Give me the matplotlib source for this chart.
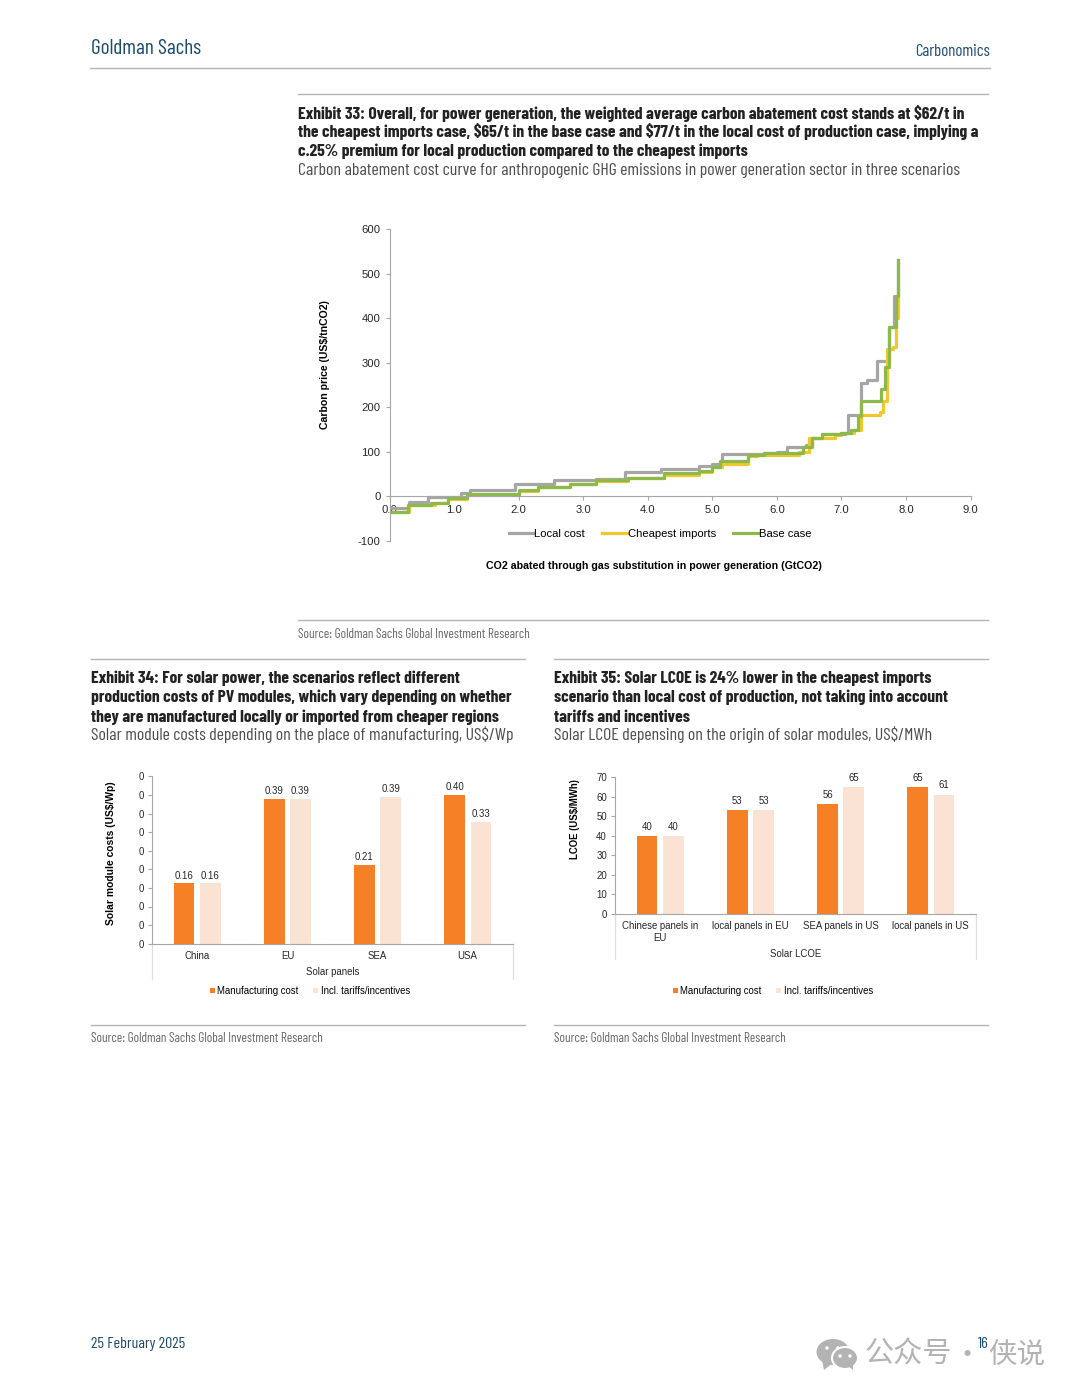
"""
Goldman Sachs Carbonomics page 16: carbon abatement curve and two solar bar charts.
"""

import matplotlib
matplotlib.use('Agg')
import matplotlib.pyplot as plt
from matplotlib.patches import Ellipse, Polygon

WIDTH = 1080
HEIGHT = 1398

NARROW = ['Barlow Condensed', 'Liberation Sans', 'DejaVu Sans']
CHART_FONT = ['Liberation Sans', 'DejaVu Sans']
CJK_FONT = ['Noto Sans CJK SC', 'DejaVu Sans']

NAVY = '#1d4a6b'
TEXT_GREY = '#4d4d4d'
RULE_GREY = '#b4b4b4'
AXIS_GREY = '#a6a6a6'
DARK = '#262626'
ORANGE = '#f58025'
PEACH = '#fbe3d3'
LINE_GREY = '#a5a5a5'
LINE_YELLOW = '#f2c72e'
LINE_GREEN = '#8db84a'

# Exhibit 33
LOCAL_X = [0.0, 0.3, 0.6, 1.1, 1.25, 1.95, 2.3, 2.55, 3.0, 3.2, 3.65, 4.2, 4.8, 5.0, 5.15,
           5.6, 5.8, 6.0, 6.15, 6.3, 6.45, 6.55, 6.7, 7.05, 7.1, 7.3, 7.4, 7.55, 7.745, 7.82, 7.87]
LOCAL_Y = [-25, -12, -2, 8, 14, 27, 29, 36, 37, 39, 54, 62, 68, 72, 95,
           96, 98, 100, 110, 112, 115, 130, 140, 142, 183, 255, 262, 303, 380, 450, 530]
CHEAP_X = [0.0, 0.3, 0.7, 0.9, 1.2, 2.0, 2.3, 2.8, 3.2, 3.7, 4.25, 4.8, 5.0, 5.15, 5.55,
           5.7, 6.35, 6.5, 6.9, 7.0, 7.2, 7.3, 7.6, 7.65, 7.7, 7.8, 7.85, 7.87]
CHEAP_Y = [-35, -20, -15, -5, 3, 12, 22, 28, 35, 42, 48, 55, 65, 73, 90,
           93, 100, 130, 138, 142, 150, 182, 190, 215, 330, 335, 400, 465]
BASE_X = [0.0, 0.28, 0.65, 0.9, 1.2, 2.0, 2.3, 2.8, 3.2, 3.7, 4.25, 4.8, 5.0, 5.12, 5.55,
          5.8, 6.4, 6.55, 6.7, 7.0, 7.15, 7.25, 7.3, 7.62, 7.68, 7.745, 7.84, 7.87]
BASE_Y = [-35, -20, -15, -3, 5, 14, 22, 28, 36, 42, 52, 57, 66, 80, 94,
          97, 110, 130, 140, 142, 150, 180, 215, 240, 290, 380, 450, 530]
X_TICKS_33 = [0, 1, 2, 3, 4, 5, 6, 7, 8, 9]
Y_TICKS_33 = [-100, 0, 100, 200, 300, 400, 500, 600]

# Exhibit 34
PANEL_LABELS = ['China', 'EU', 'SEA', 'USA']
PANEL_COST = [0.162, 0.39, 0.212, 0.401]
PANEL_TARIFF = [0.162, 0.39, 0.394, 0.328]
PANEL_TICKS = [0.0, 0.05, 0.1, 0.15, 0.2, 0.25, 0.3, 0.35, 0.4, 0.45]

# Exhibit 35
LCOE_LABELS = ['Chinese panels in\nEU', 'local panels in EU', 'SEA panels in US', 'local panels in US']
LCOE_COST = [40, 53, 56, 65]
LCOE_TARIFF = [40, 53, 65, 61]
LCOE_TICKS = [0, 10, 20, 30, 40, 50, 60, 70]


def add_axes_px(fig, left, top, right, bottom):
    return fig.add_axes([left / WIDTH, 1 - bottom / HEIGHT, (right - left) / WIDTH, (bottom - top) / HEIGHT])


def draw_page(page):
    page.set_xlim(0, WIDTH)
    page.set_ylim(HEIGHT, 0)
    page.axis('off')

    rules = [(90, 990, 68), (298, 988, 94), (298, 988, 620), (91, 525, 659), (554, 988, 659),
             (91, 525, 1025), (554, 988, 1025)]
    for x0, x1, y in rules:
        page.plot([x0, x1], [y, y], color=RULE_GREY, lw=1)

    page.text(91, 49, 'Goldman Sachs', color=NAVY, fontsize=15.3, family=NARROW, va='center')
    page.text(990, 52, 'Carbonomics', color=NAVY, fontsize=12.1, family=NARROW, va='center', ha='right')
    page.text(91, 1344, '25 February 2025', color=NAVY, fontsize=11.5, family=NARROW, va='center')

    blocks = [
        (298, [113, 132, 151], 170,
         ['Exhibit 33: Overall, for power generation, the weighted average carbon abatement cost stands at $62/t in',
          'the cheapest imports case, $65/t in the base case and $77/t in the local cost of production case, implying a',
          'c.25% premium for local production compared to the cheapest imports'],
         'Carbon abatement cost curve for anthropogenic GHG emissions in power generation sector in three scenarios'),
        (91, [678, 697, 717], 735,
         ['Exhibit 34: For solar power, the scenarios reflect different',
          'production costs of PV modules, which vary depending on whether',
          'they are manufactured locally or imported from cheaper regions'],
         'Solar module costs depending on the place of manufacturing, US$/Wp'),
        (554, [678, 697, 717], 735,
         ['Exhibit 35: Solar LCOE is 24% lower in the cheapest imports',
          'scenario than local cost of production, not taking into account',
          'tariffs and incentives'],
         'Solar LCOE depensing on the origin of solar modules, US$/MWh'),
    ]
    for x, title_ys, sub_y, title_lines, subtitle in blocks:
        for y, line in zip(title_ys, title_lines):
            page.text(x, y, line, color='#222222', fontsize=12.6, family=NARROW, weight='bold', va='center',
                      parse_math=False)
        page.text(x, sub_y, subtitle, color=TEXT_GREY, fontsize=12.8, family=NARROW, va='center', parse_math=False)

    for x, y in [(298, 634), (91, 1039), (554, 1039)]:
        page.text(x, y, 'Source: Goldman Sachs Global Investment Research', color='#666666',
                  fontsize=9.55, family=NARROW, va='center')

    # WeChat watermark
    mark = '#b3b3b3'
    page.add_patch(Ellipse((833, 1352), 33, 26, color=mark, lw=0))
    page.add_patch(Polygon([[822, 1360], [824, 1370], [833, 1363]], color=mark, lw=0))
    page.add_patch(Ellipse((845, 1358), 26, 22, color=mark, ec='white', lw=1.5))
    page.add_patch(Polygon([[848, 1366], [853, 1370], [853, 1363]], color=mark, lw=0))
    for x, y in [(827, 1348), (838, 1348), (840, 1356), (850, 1356)]:
        page.add_patch(Ellipse((x, y), 3.5, 3.5, color='white', lw=0))
    page.text(865, 1355, '公众号', color=mark, fontsize=21, family=CJK_FONT, va='center')
    page.text(967, 1356, '·', color=mark, fontsize=21, family=CJK_FONT, va='center', ha='center')
    page.text(988, 1355, '侠说', color=mark, fontsize=20.5, family=CJK_FONT, va='center')
    page.text(978, 1344, '16', color=NAVY, fontsize=11.5, family=NARROW, va='center')


def draw_curve(ax):
    ax.plot(LOCAL_X, LOCAL_Y, drawstyle='steps-post', color=LINE_GREY, lw=2.3, label='Local cost')
    ax.plot(CHEAP_X, CHEAP_Y, drawstyle='steps-post', color=LINE_YELLOW, lw=2.3, label='Cheapest imports')
    ax.plot(BASE_X, BASE_Y, drawstyle='steps-post', color=LINE_GREEN, lw=2.3, label='Base case')

    ax.set_xlim(0, 9)
    ax.set_ylim(-100, 600)
    ax.set_xticks(X_TICKS_33, [f'{t:.1f}' for t in X_TICKS_33])
    ax.set_yticks(Y_TICKS_33)
    ax.spines['top'].set_visible(False)
    ax.spines['right'].set_visible(False)
    ax.spines['bottom'].set_position(('data', 0))
    for side in ('left', 'bottom'):
        ax.spines[side].set_color(AXIS_GREY)
    ax.tick_params(axis='both', color=AXIS_GREY, labelcolor=DARK, labelsize=8.1, length=3)
    ax.tick_params(axis='x', pad=3)
    ax.patch.set_alpha(0)
    for label in ax.get_xticklabels() + ax.get_yticklabels():
        label.set_family(CHART_FONT)

    ax.set_ylabel('Carbon price (US$/tnCO2)', fontsize=7.6, weight='bold', family=CHART_FONT, parse_math=False)
    ax.yaxis.set_label_coords(-0.102, 0.564)
    ax.set_xlabel('CO2 abated through gas substitution in power generation (GtCO2)',
                  fontsize=7.7, weight='bold', family=CHART_FONT)
    ax.xaxis.set_label_coords((654 - 389.5) / 581, (541 - 561) / 312)
    ax.legend(loc='center', bbox_to_anchor=(0.4656, 0.0226), ncol=3, frameon=False,
              prop={'family': CHART_FONT, 'size': 8.1}, handlelength=2.2, handletextpad=0.1,
              columnspacing=1.5, borderpad=0)


def draw_bars(ax, labels, cost, tariff, ticks, fmt, ylabel, xlabel, xlabel_px, stem_px, ylabel_x, ylabel_y,
              ylabel_size, label_pad):
    positions = range(len(labels))
    bars_a = ax.bar([p - 0.145 for p in positions], cost, width=0.225, color=ORANGE, label='Manufacturing cost')
    bars_b = ax.bar([p + 0.145 for p in positions], tariff, width=0.225, color=PEACH, label='Incl. tariffs/incentives')
    for bars in (bars_a, bars_b):
        ax.bar_label(bars, fmt=fmt, padding=label_pad, fontsize=6.9, color=DARK, family=CHART_FONT)

    ax.set_xlim(-0.5, len(labels) - 0.5)
    ax.set_ylim(ticks[0], ticks[-1])
    ax.set_yticks(ticks, [f'{t:.0f}' for t in ticks])
    ax.set_xticks(list(positions), labels)
    ax.spines['top'].set_visible(False)
    ax.spines['right'].set_visible(False)
    for side in ('left', 'bottom'):
        ax.spines[side].set_color(AXIS_GREY)
    ax.tick_params(axis='y', color=AXIS_GREY, labelcolor=DARK, labelsize=6.9, length=3, pad=3)
    ax.tick_params(axis='x', length=0, labelcolor=DARK, labelsize=6.9, pad=5)
    for label in ax.get_xticklabels() + ax.get_yticklabels():
        label.set_family(CHART_FONT)

    # category frame running down below the axis
    ax_height = ax.get_window_extent().height
    for x in (0, 1):
        ax.plot([x, x], [0, -stem_px / ax_height], transform=ax.transAxes, color='#dedede', lw=0.9, clip_on=False)

    ax.set_ylabel(ylabel, fontsize=ylabel_size, weight='bold', family=CHART_FONT, parse_math=False)
    ax.yaxis.set_label_coords(ylabel_x, ylabel_y)
    ax.set_xlabel(xlabel, fontsize=6.9, color=DARK, family=CHART_FONT)
    ax.xaxis.set_label_coords(0.5, -xlabel_px / ax_height)


def main() -> None:
    plt.rcParams['axes.unicode_minus'] = False
    fig = plt.figure(figsize=(WIDTH / 100, HEIGHT / 100), dpi=100, facecolor='white')

    page = fig.add_axes([0, 0, 1, 1])
    draw_page(page)

    draw_curve(add_axes_px(fig, 389.5, 229, 970.5, 541))

    ax_34 = add_axes_px(fig, 152.3, 776.3, 512.7, 943.7)
    draw_bars(ax_34, PANEL_LABELS, PANEL_COST, PANEL_TARIFF, PANEL_TICKS, '%.2f',
              'Solar module costs (US$/Wp)', 'Solar panels', 23, 35, -0.101, 0.54, 7.4, 2)
    ax_34.legend(loc='center', bbox_to_anchor=(310 / WIDTH, 1 - 991 / HEIGHT), bbox_transform=fig.transFigure,
                 ncol=2, frameon=False, prop={'family': CHART_FONT, 'size': 6.9}, handlelength=0.5,
                 handleheight=0.5, handletextpad=0.3, columnspacing=1.5, borderpad=0)

    ax_35 = add_axes_px(fig, 615.3, 777, 975.7, 914)
    draw_bars(ax_35, LCOE_LABELS, LCOE_COST, LCOE_TARIFF, LCOE_TICKS, '%.0f',
              'LCOE (US$/MWh)', 'Solar LCOE', 35, 45, -0.098, 0.69, 6.9, 3)
    ax_35.legend(loc='center', bbox_to_anchor=(773 / WIDTH, 1 - 991 / HEIGHT), bbox_transform=fig.transFigure,
                 ncol=2, frameon=False, prop={'family': CHART_FONT, 'size': 6.9}, handlelength=0.5,
                 handleheight=0.5, handletextpad=0.3, columnspacing=1.5, borderpad=0)

    fig.savefig('out.png', dpi=100, facecolor='white')


if __name__ == '__main__':
    main()
